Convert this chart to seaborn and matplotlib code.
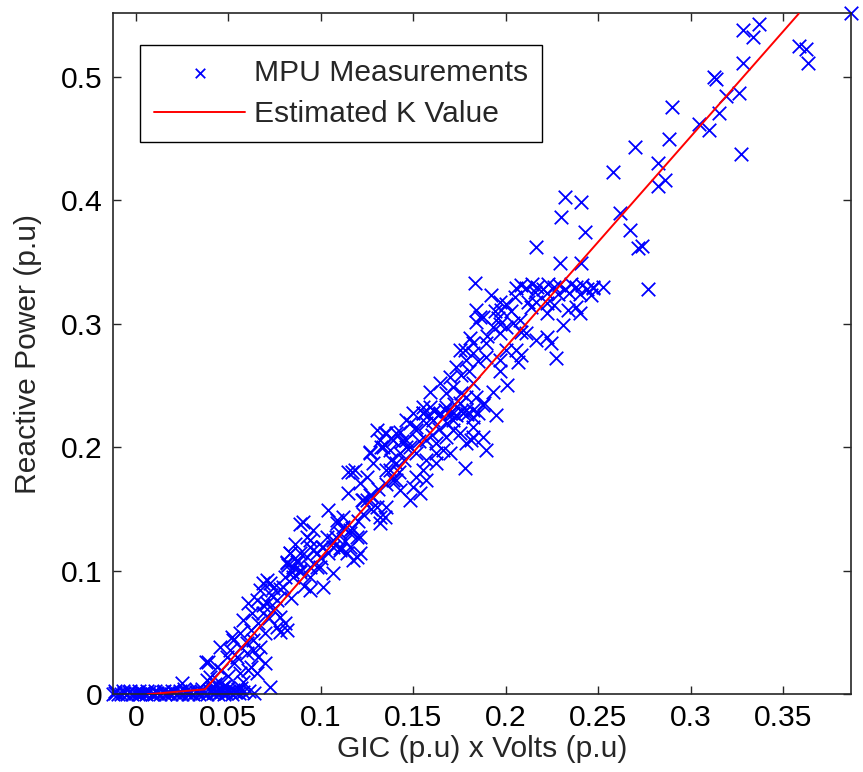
import matplotlib
matplotlib.use("Agg")
import matplotlib.pyplot as plt
import seaborn as sns
import pandas as pd

# ---------------- data ----------------
# points lying on / near zero reactive power
near_zero_pts = [
    (-0.0125, 0.0), (-0.011, 0.001), (-0.0095, 0.0), (-0.008, 0.0005), (-0.0065, 0.001),
    (-0.005, 0.0), (-0.0035, 0.0015), (-0.002, 0.0), (-0.0005, 0.001), (0.001, 0.0),
    (0.0025, 0.0005), (0.004, 0.001), (0.0055, 0.0), (0.007, 0.0015), (0.0085, 0.0005),
    (0.010, 0.0), (0.0115, 0.001), (0.013, 0.0), (0.0145, 0.002), (0.016, 0.0005),
    (0.0175, 0.001), (0.019, 0.0), (0.0205, 0.0015), (0.022, 0.0005), (0.0235, 0.001),
    (0.025, 0.0), (0.0265, 0.002), (0.028, 0.0005), (0.0295, 0.001), (0.031, 0.0),
    (0.0325, 0.0015), (0.034, 0.0005), (0.0355, 0.002), (0.037, 0.001), (0.0385, 0.0),
    (0.040, 0.0025), (0.0415, 0.001), (0.043, 0.0015), (0.0445, 0.0), (0.046, 0.002),
    (0.0475, 0.0005), (0.049, 0.001), (0.0505, 0.0025), (0.052, 0.0), (0.0535, 0.0015),
    (0.056, 0.001), (0.0248, 0.009), (0.026, 0.0045), (0.0383, 0.0116), (0.038, 0.026),
    (0.040, 0.014), (0.047, 0.006), (0.0526, 0.0035), (0.043, 0.008), (0.041, 0.005),
    (0.044, 0.003), (0.048, 0.007), (0.055, 0.004), (0.045, 0.010), (0.058, 0.002),
    (0.061, 0.003), (0.064, 0.001), (0.0725, 0.0062),
    (-0.0115, 0.003), (-0.007, 0.0025), (-0.003, 0.003), (0.0015, 0.0025), (0.006, 0.003),
    (0.0105, 0.0025), (0.015, 0.003), (0.0195, 0.0025), (0.024, 0.003), (0.0285, 0.0025),
    (0.033, 0.0035), (0.036, 0.004), (0.042, 0.004), (0.046, 0.0045), (0.050, 0.005),
    (0.054, 0.002), (0.057, 0.005),
]

# lower part of the ramp
ramp_low_pts = [
    (0.0437, 0.0224), (0.0392, 0.0264), (0.0491, 0.0304), (0.0455, 0.0385), (0.0518, 0.0466),
    (0.0527, 0.044), (0.0563, 0.0494), (0.0599, 0.0413), (0.0635, 0.044), (0.0509, 0.0359),
    (0.0545, 0.0304), (0.0599, 0.0332), (0.0635, 0.0359), (0.0671, 0.0385), (0.0698, 0.0251),
    (0.0653, 0.017), (0.0608, 0.0197), (0.0563, 0.017), (0.0581, 0.0602), (0.0608, 0.0737),
    (0.0653, 0.0763), (0.0707, 0.0737), (0.0761, 0.0763), (0.0626, 0.0656), (0.0689, 0.0656),
    (0.0743, 0.0683), (0.0779, 0.0628), (0.0806, 0.0575), (0.0761, 0.0547), (0.0815, 0.0521),
    (0.0779, 0.0507), (0.0689, 0.0899), (0.0725, 0.090), (0.067, 0.0845), (0.0743, 0.0858),
    (0.0833, 0.114), (0.0869, 0.107), (0.0824, 0.1047), (0.0842, 0.0993), (0.0806, 0.0952),
    (0.0887, 0.138), (0.086, 0.122), (0.0707, 0.0925), (0.0797, 0.0871), (0.0851, 0.0952),
    (0.0941, 0.0845), (0.0887, 0.1006), (0.0941, 0.0952), (0.1013, 0.0871), (0.1067, 0.098),
    (0.0977, 0.1033), (0.084, 0.078), (0.091, 0.088),
    (0.046, 0.020), (0.050, 0.015), (0.053, 0.025), (0.057, 0.038), (0.062, 0.052),
    (0.066, 0.058), (0.070, 0.050), (0.072, 0.062), (0.075, 0.070), (0.078, 0.085),
    (0.073, 0.080), (0.069, 0.072), (0.066, 0.030), (0.058, 0.010), (0.062, 0.022),
]

# middle of the ramp
ramp_mid_pts = [
    (0.0905, 0.1398), (0.104, 0.149), (0.1148, 0.180), (0.1184, 0.1816), (0.1265, 0.1964),
    (0.1346, 0.2113), (0.1382, 0.2073), (0.1328, 0.2005), (0.1283, 0.187), (0.1247, 0.1762),
    (0.121, 0.1708), (0.1265, 0.1614), (0.1229, 0.1573), (0.1355, 0.1816), (0.1391, 0.1735),
    (0.1346, 0.1438), (0.1319, 0.1385), (0.1121, 0.1438), (0.1085, 0.1385), (0.1157, 0.133),
    (0.1103, 0.1304), (0.1193, 0.1276), (0.1031, 0.1276), (0.1067, 0.1195), (0.1103, 0.1168),
    (0.1157, 0.1195), (0.121, 0.1142), (0.1175, 0.1087), (0.0923, 0.1276), (0.0959, 0.133),
    (0.1004, 0.1195), (0.0977, 0.1142), (0.0941, 0.1195), (0.0887, 0.1142), (0.0833, 0.1142),
    (0.0815, 0.1074), (0.0851, 0.1033), (0.0887, 0.0993), (0.0941, 0.1033), (0.0995, 0.1033),
    (0.1301, 0.214), (0.1166, 0.180), (0.1148, 0.1627), (0.122, 0.1573), (0.1085, 0.1411),
    (0.1121, 0.1357), (0.1157, 0.1304), (0.121, 0.1276), (0.1067, 0.1249), (0.1013, 0.1195),
    (0.1103, 0.1182), (0.1139, 0.1142), (0.1193, 0.1114), (0.0941, 0.1249), (0.0959, 0.1168),
    (0.0815, 0.106), (0.0869, 0.1087), (0.0923, 0.1114), (0.1247, 0.1573), (0.1283, 0.16),
    (0.1319, 0.1438), (0.1355, 0.1519), (0.1301, 0.1519), (0.1265, 0.1951),
    (0.100, 0.110), (0.104, 0.114), (0.108, 0.127), (0.113, 0.124), (0.117, 0.135),
    (0.120, 0.140), (0.123, 0.146), (0.127, 0.150), (0.131, 0.166), (0.135, 0.170),
    (0.138, 0.190), (0.142, 0.180), (0.145, 0.190), (0.148, 0.200), (0.144, 0.205),
]

# upper part of the dense cloud (0.13 - 0.19)
ramp_high_pts = [
    (0.1589, 0.2329), (0.1643, 0.2275), (0.1679, 0.2329), (0.1553, 0.2275), (0.1715, 0.2221),
    (0.1769, 0.2275), (0.1823, 0.2248), (0.1877, 0.2343), (0.1949, 0.2262), (0.1823, 0.2167),
    (0.1751, 0.2113), (0.1715, 0.214), (0.1679, 0.2086), (0.1625, 0.2032), (0.1571, 0.2059),
    (0.1517, 0.214), (0.1481, 0.2194), (0.1409, 0.2113), (0.1355, 0.2113), (0.1337, 0.2005),
    (0.1373, 0.1978), (0.1427, 0.1951), (0.1463, 0.2005), (0.1517, 0.1951), (0.1571, 0.1897),
    (0.1625, 0.1951), (0.1661, 0.1978), (0.1697, 0.1951), (0.1787, 0.2032), (0.1814, 0.2059),
    (0.1895, 0.1978), (0.1778, 0.183), (0.1625, 0.187), (0.1553, 0.1816), (0.1571, 0.1735),
    (0.1517, 0.1762), (0.1499, 0.1681), (0.1535, 0.1627), (0.1481, 0.1573), (0.1427, 0.1654),
    (0.1409, 0.1735), (0.1373, 0.1816), (0.1409, 0.187), (0.1607, 0.2221), (0.1751, 0.2356),
    (0.1877, 0.2086), (0.1463, 0.2221), (0.1517, 0.2167), (0.1571, 0.2194), (0.1427, 0.2126),
    (0.1319, 0.2059), (0.1391, 0.2059), (0.1463, 0.2059), (0.1787, 0.2302), (0.1715, 0.2275),
    (0.1823, 0.2086), (0.155, 0.228), (0.158, 0.226), (0.161, 0.229), (0.164, 0.227),
    (0.167, 0.230), (0.170, 0.228), (0.173, 0.226), (0.176, 0.229), (0.179, 0.227),
    (0.182, 0.230), (0.185, 0.228), (0.153, 0.205), (0.160, 0.210), (0.164, 0.215),
    (0.168, 0.220),
]

# band between 0.24 and 0.33
ramp_top_pts = [
    (0.1832, 0.3328), (0.186, 0.3057), (0.1841, 0.3017), (0.1805, 0.2883), (0.1778, 0.2788),
    (0.1823, 0.2761), (0.1787, 0.2707), (0.1733, 0.2653), (0.176, 0.2585), (0.1697, 0.2572),
    (0.1715, 0.2491), (0.1679, 0.2437), (0.1643, 0.2518), (0.1589, 0.245), (0.1823, 0.2518),
    (0.1841, 0.241), (0.1787, 0.241), (0.1553, 0.2329), (0.1499, 0.2275), (0.1922, 0.3233),
    (0.2048, 0.322), (0.1967, 0.3179), (0.1976, 0.3112), (0.1877, 0.3057), (0.1841, 0.3112),
    (0.1958, 0.3044), (0.2039, 0.3004), (0.2075, 0.3031), (0.212, 0.3179), (0.2165, 0.3179),
    (0.2138, 0.3138), (0.2111, 0.2923), (0.1895, 0.2734), (0.1751, 0.2788), (0.1823, 0.2842),
    (0.1895, 0.2842), (0.1931, 0.2977), (0.1967, 0.2923), (0.2003, 0.2977), (0.2084, 0.2936),
    (0.2057, 0.2788), (0.2084, 0.2747), (0.2066, 0.2693), (0.2003, 0.2788), (0.1967, 0.2707),
    (0.197, 0.262), (0.2006, 0.2504), (0.193, 0.245), (0.188, 0.236),
    (0.172, 0.235), (0.176, 0.244), (0.180, 0.262), (0.185, 0.270), (0.190, 0.290),
    (0.194, 0.310), (0.200, 0.316), (0.197, 0.300), (0.203, 0.310),
]

# saturation band near 0.33 and points around it
band_pts = [
    (0.2057, 0.3287), (0.208, 0.331), (0.211, 0.329), (0.214, 0.332), (0.217, 0.330),
    (0.220, 0.328), (0.223, 0.332), (0.226, 0.330), (0.229, 0.331), (0.232, 0.328),
    (0.235, 0.332), (0.238, 0.330), (0.241, 0.331), (0.244, 0.328), (0.247, 0.330),
    (0.2525, 0.330), (0.2462, 0.3233), (0.2471, 0.3287), (0.222, 0.325), (0.228, 0.324),
    (0.234, 0.325), (0.240, 0.324), (0.216, 0.326), (0.2165, 0.3625), (0.2224, 0.3166),
    (0.226, 0.3152), (0.2224, 0.3085), (0.2309, 0.299), (0.2381, 0.3138), (0.2336, 0.3112),
    (0.2399, 0.3085), (0.2224, 0.2896), (0.2246, 0.2842), (0.2273, 0.2721), (0.2766, 0.328),
    (0.2165, 0.287),
]

# sparse upper points
upper_pts = [
    (0.2579, 0.4232), (0.2318, 0.4029), (0.2408, 0.3989), (0.230, 0.3867), (0.2426, 0.3746),
    (0.2615, 0.3895), (0.2669, 0.3759), (0.2714, 0.3611), (0.2291, 0.349), (0.2408, 0.349),
    (0.3866, 0.5514), (0.3281, 0.5379), (0.3371, 0.5427), (0.3338, 0.532), (0.3587, 0.5249),
    (0.3623, 0.5222), (0.3632, 0.5114), (0.3281, 0.5114), (0.3128, 0.4996), (0.3137, 0.498),
    (0.3263, 0.4871), (0.3191, 0.4845), (0.3151, 0.4704), (0.290, 0.4753), (0.3047, 0.4618),
    (0.3097, 0.4569), (0.2881, 0.4494), (0.2701, 0.4434), (0.3272, 0.4375), (0.2822, 0.4305),
    (0.2858, 0.4164), (0.2822, 0.4116), (0.2737, 0.363),
]

# estimated K value line (piecewise)
fit_x = [0.0063, 0.0374, 0.3583]
fit_y = [0.0, 0.004, 0.551]

x_ticks = [0, 0.05, 0.1, 0.15, 0.2, 0.25, 0.3, 0.35]
x_tick_labels = ["0", "0.05", "0.1", "0.15", "0.2", "0.25", "0.3", "0.35"]
y_ticks = [0, 0.1, 0.2, 0.3, 0.4, 0.5]
y_tick_labels = ["0", "0.1", "0.2", "0.3", "0.4", "0.5"]

# ---------------- figure ----------------
sns.set_style("ticks")
plt.rcParams["font.family"] = ["Liberation Sans", "DejaVu Sans"]

FS = 21.6
fig = plt.figure(figsize=(8.63, 7.72), dpi=100)
ax = fig.add_axes([0.1306, 0.1007, 0.9861 - 0.1306, 0.9828 - 0.1007])

all_pts = (near_zero_pts + ramp_low_pts + ramp_mid_pts + ramp_high_pts
           + ramp_top_pts + band_pts + upper_pts)
pts_df = pd.DataFrame(all_pts, columns=["gic", "q"])
fit_df = pd.DataFrame({"gic": fit_x, "q": fit_y})

sns.scatterplot(data=pts_df, x="gic", y="q", marker="x", color="#0000ff",
                s=95, linewidth=1.3, ax=ax, label="MPU Measurements",
                clip_on=False, zorder=2)
sns.lineplot(data=fit_df, x="gic", y="q", color="#ff0000", linewidth=1.4,
             ax=ax, label="Estimated K Value", sort=False, estimator=None,
             zorder=3)

ax.set_xlim(-0.0125, 0.3866)
ax.set_ylim(0, 0.5514)
ax.set_xticks(x_ticks)
ax.set_xticklabels(x_tick_labels)
ax.set_yticks(y_ticks)
ax.set_yticklabels(y_tick_labels)

ax.set_xlabel("GIC (p.u) x Volts (p.u)", fontsize=FS, labelpad=2)
ax.set_ylabel("Reactive Power (p.u)", fontsize=FS, labelpad=14)

ax.tick_params(direction="in", length=5.5, width=1.0, top=True, right=True,
               labelsize=FS, pad=7, color="#262626", labelcolor="black")
for sp in ax.spines.values():
    sp.set_visible(True)
    sp.set_linewidth(1.2)
    sp.set_color("#262626")

leg = ax.legend(loc="upper left", bbox_to_anchor=(0.037, 0.9535),
                borderaxespad=0, frameon=True, fancybox=False,
                edgecolor="black", framealpha=1, fontsize=FS,
                handlelength=3.05, handletextpad=0.3, borderpad=0.46,
                labelspacing=0.45, markerscale=0.7)
leg.get_frame().set_linewidth(1.0)

fig.savefig("out.png", dpi=100)
